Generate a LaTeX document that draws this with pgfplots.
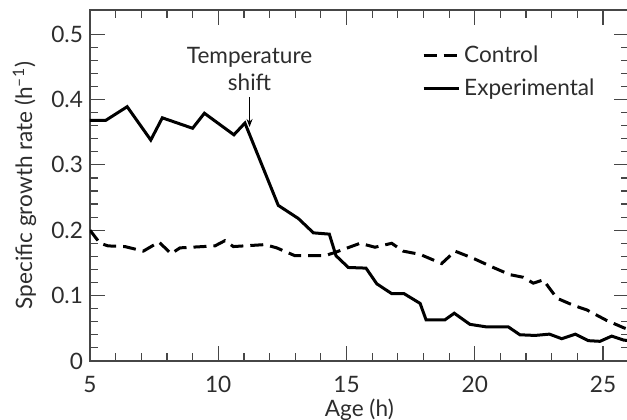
\documentclass[border=0pt]{standalone}
\usepackage{pgfplots}
\pgfplotsset{compat=1.18}
\usepackage{fontspec}
\setmainfont{Lato}
\usetikzlibrary{calc,arrows.meta}
\definecolor{axgray}{RGB}{70,70,70}
\definecolor{txtgray}{RGB}{45,45,45}
\newcommand{\chartfont}{\fontsize{11.3}{13.5}\selectfont}
\begin{document}
\begin{tikzpicture}
\begin{axis}[
  name=ax,
  width=269.4pt, height=175.5pt, scale only axis,
  xmin=5, xmax=26, ymin=0, ymax=0.537,
  xtick={5,10,15,20,25}, minor x tick num=4,
  ytick={0,0.1,0.2,0.3,0.4,0.5}, minor y tick num=4,
  tick align=inside,
  major tick length=7.5pt, minor tick length=4pt,
  axis line style={axgray, line width=0.7pt},
  every tick/.style={axgray, line width=0.6pt},
  tick label style={font=\chartfont, text=txtgray},
  /pgf/number format/assume math mode=true,
  yticklabel style={/pgf/number format/fixed},
  xticklabel style={yshift=-4pt},
  xlabel={Age (h)},
  ylabel={Specific growth rate (h\textsuperscript{–1})},
  every axis x label/.style={at={(axis description cs:0.5,-0.14)}, anchor=center, font=\chartfont, text=txtgray},
  every axis y label/.style={at={(axis description cs:-0.1216,0.5)}, rotate=90, anchor=center, font=\chartfont, text=txtgray},
  legend style={at={(0.616,0.91)}, anchor=north west, draw=none, fill=none, inner sep=0pt,
    font=\chartfont, text=txtgray, row sep=2.5pt,
    nodes={inner sep=2pt}},
  legend cell align=left,
  legend image code/.code={\draw[#1] (0pt,0pt) -- (17.5pt,0pt);},
]
\addplot[black, line width=1.5pt, dash pattern=on 6.5pt off 3.5pt] coordinates {
(5.00,0.200) (5.39,0.180) (5.71,0.176) (6.36,0.175) (7.08,0.168) (7.69,0.182)
(8.16,0.164) (8.51,0.173) (9.87,0.176) (10.26,0.184) (10.59,0.175) (11.82,0.178)
(12.28,0.173) (12.99,0.161) (14.16,0.161) (14.55,0.166) (15.53,0.180) (16.11,0.174)
(16.76,0.180) (17.21,0.168) (17.87,0.163) (18.71,0.149) (19.23,0.168) (19.94,0.157)
(20.72,0.143) (21.37,0.132) (21.89,0.128) (22.28,0.119) (22.67,0.124) (23.20,0.096)
(23.85,0.085) (24.37,0.078) (25.14,0.062) (25.79,0.051) (26.00,0.048)
};
\addlegendentry{Control}
\addplot[black, line width=1.5pt] coordinates {
(5.00,0.368) (5.61,0.368) (6.45,0.389) (7.37,0.338) (7.82,0.372) (9.00,0.356)
(9.46,0.379) (10.61,0.346) (11.04,0.364) (12.34,0.238) (13.12,0.218) (13.71,0.196)
(14.33,0.194) (14.59,0.161) (15.07,0.143) (15.76,0.142) (16.18,0.118) (16.76,0.103)
(17.24,0.103) (17.87,0.088) (18.10,0.063) (18.84,0.063) (19.20,0.073) (19.81,0.056)
(20.47,0.052) (21.31,0.052) (21.76,0.040) (22.35,0.039) (22.91,0.041) (23.39,0.034)
(23.92,0.041) (24.43,0.031) (24.88,0.030) (25.34,0.038) (25.79,0.032) (26.00,0.031)
};
\addlegendentry{Experimental}
\node[align=center, anchor=south, inner sep=0pt, font=\chartfont, text=txtgray]
  at (axis cs:11.22,0.413) {Temperature\\shift};
\draw[-{Stealth[length=4pt,width=3pt]}, black, line width=0.5pt] (axis cs:11.22,0.404) -- (axis cs:11.22,0.358);
\end{axis}
\pgfresetboundingbox
\path[use as bounding box] ($(ax.south west)+(-45pt,-29.5pt)$) rectangle ($(ax.north east)+(-0.85pt,5pt)$);
\end{tikzpicture}
\end{document}
